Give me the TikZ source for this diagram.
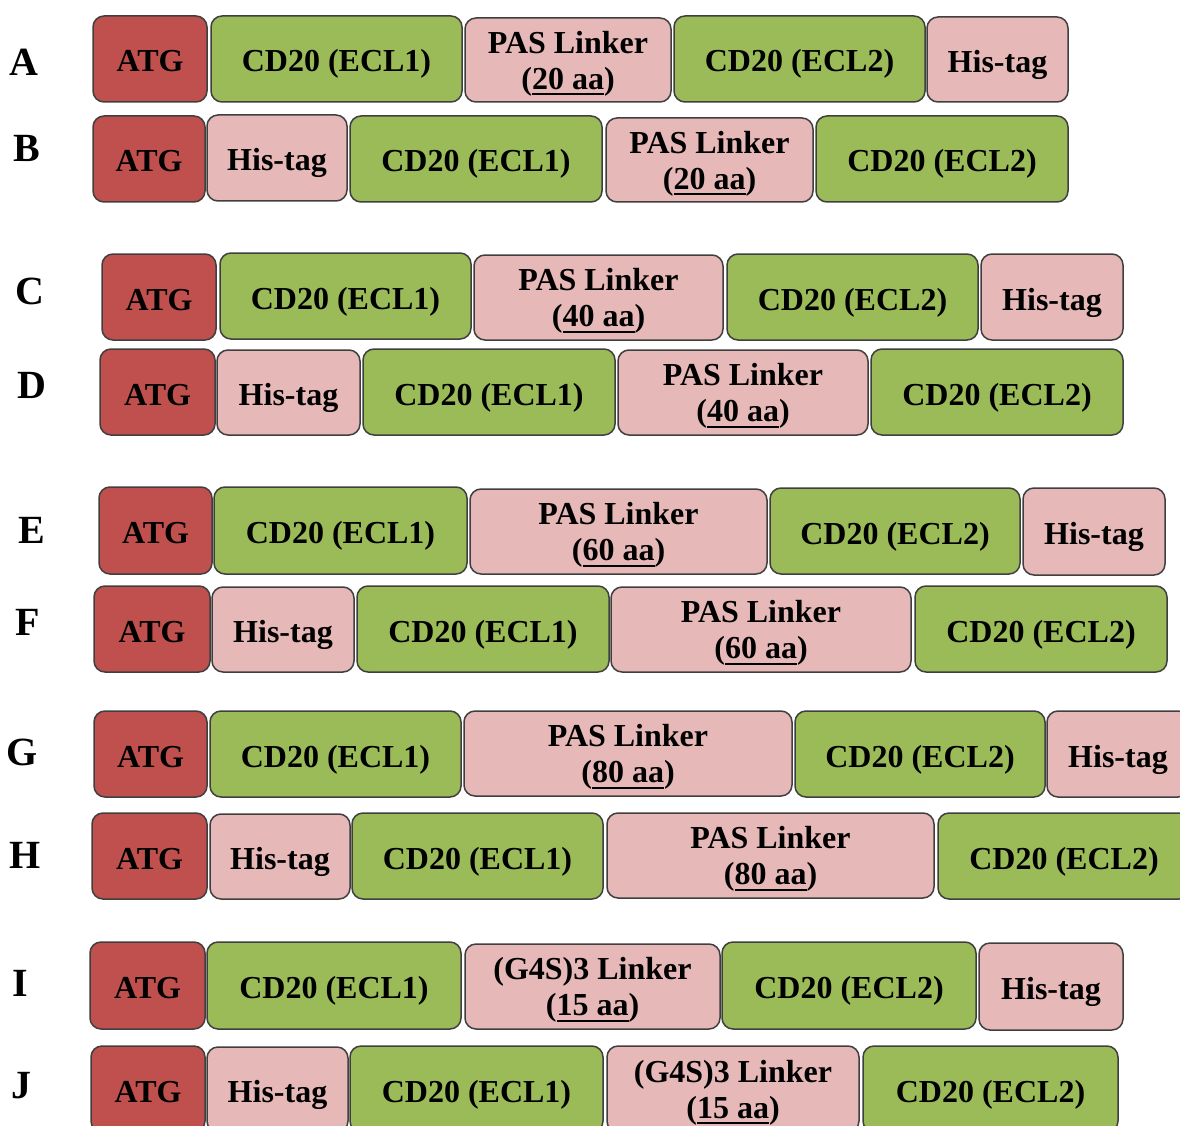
\documentclass[tikz,border=0pt]{standalone}
\usepackage{fontspec}
\setmainfont{Liberation Serif}
\definecolor{atgred}{HTML}{C0504D}
\definecolor{cdgreen}{HTML}{9BBB59}
\definecolor{linkpink}{HTML}{E6B9B8}
\definecolor{edgegray}{HTML}{3F3F3F}
\newcommand\myul[1]{\setbox0\hbox{#1}\rlap{\rule[-6pt]{\wd0}{2pt}}\box0}
\newcommand\segbox[7]{%
  \pgfmathsetmacro\cx{(#3+#4)/2}\pgfmathsetmacro\cy{(#5+#6)/2}%
  \pgfmathsetmacro\ww{#4-#3}\pgfmathsetmacro\hh{#6-#5}%
  \node[#2, minimum width=\ww pt, minimum height=\hh pt] (#1) at (\cx,\cy) {#7};}
\tikzset{
  seg/.style={draw=edgegray, line width=1.5pt, rounded corners=11pt, inner sep=0pt},
  one/.style={seg, font=\bfseries\fontsize{32}{36}\selectfont, text height=26pt, text depth=0pt},
  two/.style={seg, align=center, font=\bfseries\fontsize{32}{36}\selectfont, text depth=0pt},
  atg/.style={one, fill=atgred},
  ecl/.style={one, fill=cdgreen},
  tag/.style={one, fill=linkpink},
  lnk/.style={two, fill=linkpink},
  lab/.style={font=\bfseries\fontsize{40}{40}\selectfont, text height=27pt, text depth=0pt, inner sep=0pt}
}
\begin{document}
\begin{tikzpicture}[x=1pt,y=-1pt]
\useasboundingbox (0,0) rectangle (1180,1126);
\clip (0,0) rectangle (1180,1126);
% labels
\node[lab] (lA) at (24,62) {A};
\node[lab] (lB) at (27,148) {B};
\node[lab] (lC) at (30,291) {C};
\node[lab] (lD) at (32,385) {D};
\node[lab] (lE) at (32,530) {E};
\node[lab] (lF) at (28,622) {F};
\node[lab] (lG) at (22,752) {G};
\node[lab] (lH) at (25,855) {H};
\node[lab] (lI) at (20,983) {I};
\node[lab] (lJ) at (22,1085) {J};
% Row A
\segbox{a1}{atg}{93}{207}{16}{102}{ATG}
\segbox{a2}{ecl}{211}{462}{16}{102}{CD20 (ECL1)}
\segbox{a3}{lnk}{465}{671}{18}{102}{PAS Linker\\(\myul{20 aa})}
\segbox{a4}{ecl}{674}{925}{16}{102}{CD20 (ECL2)}
\segbox{a5}{tag}{927}{1068}{17}{102}{His-tag}
% Row B
\segbox{b1}{atg}{93}{205}{116}{202}{ATG}
\segbox{b2}{tag}{207}{347}{115}{201}{His-tag}
\segbox{b3}{ecl}{350}{602}{116}{202}{CD20 (ECL1)}
\segbox{b4}{lnk}{606}{813}{118}{202}{PAS Linker\\(\myul{20 aa})}
\segbox{b5}{ecl}{816}{1068}{116}{202}{CD20 (ECL2)}
% Row C
\segbox{c1}{atg}{102}{216}{254}{340}{ATG}
\segbox{c2}{ecl}{220}{471}{253}{339}{CD20 (ECL1)}
\segbox{c3}{lnk}{474}{723}{255}{340}{PAS Linker\\(\myul{40 aa})}
\segbox{c4}{ecl}{727}{978}{254}{340}{CD20 (ECL2)}
\segbox{c5}{tag}{981}{1123}{254}{340}{His-tag}
% Row D
\segbox{d1}{atg}{100}{215}{349}{435}{ATG}
\segbox{d2}{tag}{217}{360}{350}{435}{His-tag}
\segbox{d3}{ecl}{363}{615}{349}{435}{CD20 (ECL1)}
\segbox{d4}{lnk}{618}{868}{350}{435}{PAS Linker\\(\myul{40 aa})}
\segbox{d5}{ecl}{871}{1123}{349}{435}{CD20 (ECL2)}
% Row E
\segbox{e1}{atg}{99}{212}{487}{574}{ATG}
\segbox{e2}{ecl}{214}{467}{487}{574}{CD20 (ECL1)}
\segbox{e3}{lnk}{470}{767}{489}{574}{PAS Linker\\(\myul{60 aa})}
\segbox{e4}{ecl}{770}{1020}{488}{574}{CD20 (ECL2)}
\segbox{e5}{tag}{1023}{1165}{488}{575}{His-tag}
% Row F
\segbox{f1}{atg}{94}{210}{586}{672}{ATG}
\segbox{f2}{tag}{212}{354}{587}{672}{His-tag}
\segbox{f3}{ecl}{357}{609}{586}{672}{CD20 (ECL1)}
\segbox{f4}{lnk}{611}{911}{587}{672}{PAS Linker\\(\myul{60 aa})}
\segbox{f5}{ecl}{915}{1167}{586}{672}{CD20 (ECL2)}
% Row G
\segbox{g1}{atg}{94}{207}{711}{797}{ATG}
\segbox{g2}{ecl}{210}{461}{711}{797}{CD20 (ECL1)}
\segbox{g3}{lnk}{464}{792}{711}{796}{PAS Linker\\(\myul{80 aa})}
\segbox{g4}{ecl}{795}{1045}{711}{797}{CD20 (ECL2)}
\segbox{g5}{tag}{1047}{1189}{711}{797}{His-tag}
% Row H
\segbox{h1}{atg}{92}{207}{813}{899}{ATG}
\segbox{h2}{tag}{210}{350}{814}{899}{His-tag}
\segbox{h3}{ecl}{352}{603}{813}{899}{CD20 (ECL1)}
\segbox{h4}{lnk}{607}{934}{813}{898}{PAS Linker\\(\myul{80 aa})}
\segbox{h5}{ecl}{938}{1190}{813}{899}{CD20 (ECL2)}
% Row I
\segbox{i1}{atg}{90}{205}{942}{1029}{ATG}
\segbox{i2}{ecl}{207}{461}{942}{1029}{CD20 (ECL1)}
\segbox{i3}{lnk}{465}{720}{944}{1029}{(G4S)3 Linker\\(\myul{15 aa})}
\segbox{i4}{ecl}{722}{976}{942}{1029}{CD20 (ECL2)}
\segbox{i5}{tag}{979}{1123}{943}{1030}{His-tag}
% Row J
\segbox{j1}{atg}{91}{205}{1046}{1132}{ATG}
\segbox{j2}{tag}{207}{348}{1047}{1132}{His-tag}
\segbox{j3}{ecl}{350}{603}{1046}{1132}{CD20 (ECL1)}
\segbox{j4}{lnk}{607}{859}{1046}{1132}{(G4S)3 Linker\\(\myul{15 aa})}
\segbox{j5}{ecl}{863}{1118}{1046}{1132}{CD20 (ECL2)}
\end{tikzpicture}
\end{document}
